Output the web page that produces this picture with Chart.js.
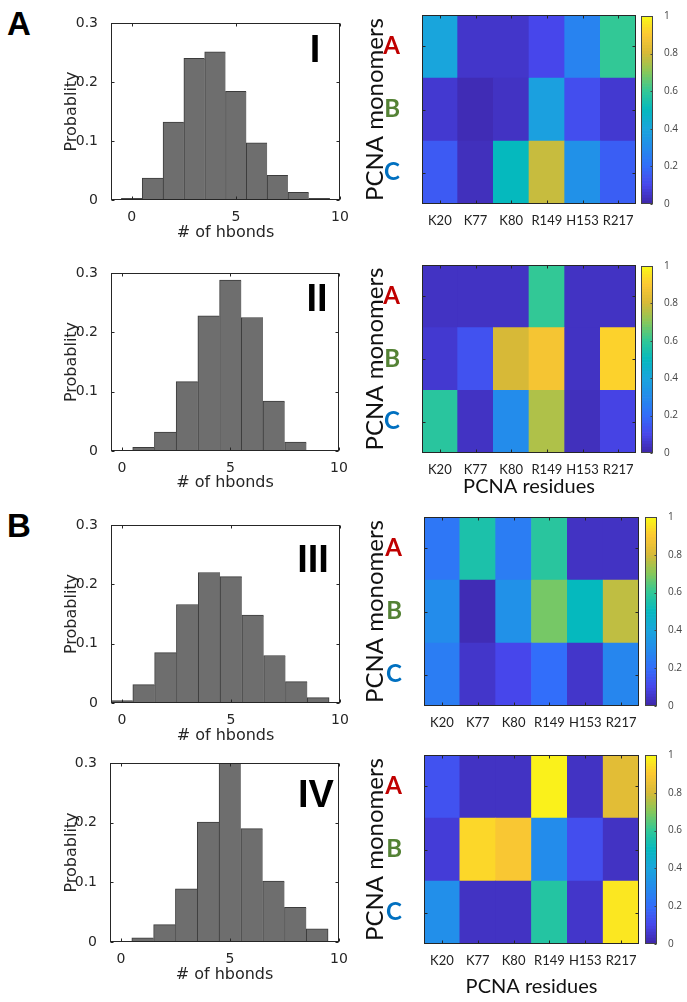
<!DOCTYPE html>
<html>
<head>
<meta charset="utf-8">
<title>PCNA hbonds</title>
<script src="https://cdn.jsdelivr.net/npm/chart.js@4.4.1/dist/chart.umd.min.js"></script>
<style>
html, body { margin: 0; padding: 0; background: #fff; }
body { position: relative; width: 687px; height: 1002px; overflow: hidden; }
canvas { position: absolute; }
.panel { position: absolute; font: bold 33px "Liberation Sans", Arial, sans-serif; line-height: 33px; color: #000; }
</style>
</head>
<body>
<div class="panel" style="left:7px;top:7px">A</div>
<div class="panel" style="left:7px;top:509px">B</div>
<script>
// ---------------- DATA ----------------
const hbondBins = [0, 1, 2, 3, 4, 5, 6, 7, 8, 9];
const probI   = [0.003, 0.037, 0.132, 0.240, 0.251, 0.184, 0.097, 0.042, 0.013, 0.003];
const probII  = [0, 0.006, 0.032, 0.117, 0.228, 0.288, 0.225, 0.084, 0.015, 0];
const probIII = [0.004, 0.031, 0.085, 0.166, 0.220, 0.213, 0.148, 0.080, 0.036, 0.009];
const probIV  = [0, 0.007, 0.029, 0.089, 0.201, 0.300, 0.190, 0.102, 0.058, 0.022];
const hbondTicks = [0, 5, 10];
const probTicks = [0, 0.1, 0.2, 0.3];

const residues = ["K20", "K77", "K80", "R149", "H153", "R217"];
const monomers = ["A", "B", "C"];
const monomerColors = ["#c00000", "#548235", "#0070c0"];

// rows: A, B, C
const heatI = [
    [0.40, 0.05, 0.05, 0.10, 0.27, 0.60],
    [0.06, 0.02, 0.04, 0.38, 0.12, 0.06],
    [0.15, 0.03, 0.50, 0.78, 0.32, 0.16]
];
const heatII = [
    [0.04, 0.04, 0.04, 0.60, 0.04, 0.04],
    [0.06, 0.13, 0.80, 0.88, 0.04, 0.92],
    [0.58, 0.04, 0.30, 0.75, 0.03, 0.09]
];
const heatIII = [
    [0.23, 0.55, 0.25, 0.58, 0.04, 0.04],
    [0.30, 0.02, 0.32, 0.68, 0.50, 0.77],
    [0.25, 0.05, 0.10, 0.20, 0.05, 0.28]
];
const heatIV = [
    [0.13, 0.04, 0.04, 0.98, 0.04, 0.83],
    [0.07, 0.93, 0.89, 0.30, 0.12, 0.04],
    [0.31, 0.04, 0.04, 0.57, 0.05, 0.96]
];
const colorbarTicks = [0, 0.2, 0.4, 0.6, 0.8, 1];

// parula colormap, evenly spaced stops from 0 to 1
const parulaStops = [
    [62, 38, 168], [71, 70, 235], [50, 110, 250], [35, 140, 235],
    [25, 165, 220], [5, 185, 190], [50, 200, 150], [135, 200, 90],
    [215, 185, 55], [253, 200, 50], [249, 251, 21]
];

const axisInk = "#262626";

function parula(v) {
    const n = parulaStops.length - 1;
    const p = Math.min(Math.max(v, 0), 1) * n;
    const i = Math.min(Math.floor(p), n - 1);
    const f = p - i;
    const a = parulaStops[i], b = parulaStops[i + 1];
    return "rgb(" + a.map((c, k) => Math.round(c + (b[k] - c) * f)).join(",") + ")";
}

function makeCanvas(box) {
    const c = document.createElement("canvas");
    c.width = box.w;
    c.height = box.h;
    c.style.left = box.x + "px";
    c.style.top = box.y + "px";
    c.style.width = box.w + "px";
    c.style.height = box.h + "px";
    document.body.appendChild(c);
    return c;
}

// ---------------- BOX + INWARD TICKS ----------------
const framePlugin = {
    id: "frame",
    afterDraw(chart, args, opts) {
        const { ctx, chartArea: a } = chart;
        const L = Math.round(a.left) + 0.5, R = Math.round(a.right) - 0.5;
        const T = Math.round(a.top) + 0.5, B = Math.round(a.bottom) - 0.5;
        const len = opts.tick || 3;
        ctx.save();
        ctx.strokeStyle = opts.color || axisInk;
        ctx.lineWidth = 1;
        ctx.strokeRect(L, T, R - L, B - T);
        ctx.beginPath();
        const sx = chart.scales.x;
        if (sx && sx.options.display !== false) {
            sx.ticks.forEach((t, i) => {
                const px = Math.round(sx.getPixelForTick(i)) + 0.5;
                ctx.moveTo(px, B); ctx.lineTo(px, B - len);
                ctx.moveTo(px, T); ctx.lineTo(px, T + len);
            });
        }
        const sy = chart.scales.y;
        if (sy) {
            sy.ticks.forEach((t, i) => {
                const py = Math.round(sy.getPixelForTick(i)) + 0.5;
                if (opts.left !== false) { ctx.moveTo(L, py); ctx.lineTo(L + len, py); }
                ctx.moveTo(R, py); ctx.lineTo(R - len, py);
            });
        }
        ctx.stroke();
        if (opts.label) {
            ctx.fillStyle = "#000";
            ctx.font = 'bold 38px "Liberation Sans", Arial, sans-serif';
            ctx.textAlign = "center";
            ctx.textBaseline = "alphabetic";
            ctx.fillText(opts.label, a.right - opts.labelRight, a.top + opts.labelBase);
        }
        ctx.restore();
    }
};

// ---------------- HISTOGRAMS ----------------
function drawHistogram(box, area, xMin, probs, numeral, xTitleY) {
    const canvas = makeCanvas(box);
    const last = probs.length - 1;
    const tickFont = { family: "DejaVu Sans", size: 14 };
    const titleFont = { family: "DejaVu Sans", size: 16 };
    new Chart(canvas, {
        type: "bar",
        data: {
            datasets: [{
                data: hbondBins.map((b, i) => ({ x: b, y: probs[i] })),
                backgroundColor: "#6e6e6e",
                borderColor: "#3c3c3c",
                borderWidth: ctx => ({ top: 1, left: 1, bottom: 0, right: ctx.dataIndex === last ? 1 : 0 }),
                borderSkipped: false,
                barPercentage: 1,
                categoryPercentage: 1
            }]
        },
        options: {
            responsive: false,
            animation: false,
            devicePixelRatio: 1,
            layout: { padding: { top: area.t - box.y, right: box.x + box.w - area.r, left: 0, bottom: 0 } },
            plugins: {
                legend: { display: false },
                tooltip: { enabled: false },
                frame: numeral
            },
            scales: {
                x: {
                    type: "linear",
                    min: xMin,
                    max: 10,
                    offset: false,
                    grid: { display: false },
                    border: { display: false },
                    afterBuildTicks: s => { s.ticks = hbondTicks.map(v => ({ value: v })); },
                    ticks: { color: axisInk, font: tickFont, padding: 1, maxRotation: 0, autoSkip: false },
                    title: {
                        display: true,
                        text: "# of hbonds",
                        color: axisInk,
                        font: titleFont,
                        padding: { top: 0, bottom: box.y + box.h - xTitleY - 9.6 }
                    },
                    afterFit: s => {
                        s.height = box.y + box.h - area.b;
                        s.paddingLeft = 0;
                        s.paddingRight = 0;
                    }
                },
                y: {
                    min: 0,
                    max: 0.3,
                    grid: { display: false },
                    border: { display: false },
                    afterBuildTicks: s => { s.ticks = probTicks.map(v => ({ value: v })); },
                    ticks: {
                        color: axisInk,
                        font: tickFont,
                        padding: 5,
                        callback: v => (v === 0 ? "0" : v.toFixed(1))
                    },
                    title: {
                        display: true,
                        text: "Probablity",
                        color: axisInk,
                        font: titleFont,
                        padding: { top: 72 - box.x - 9.6, bottom: 0 }
                    },
                    afterFit: s => {
                        s.width = area.l - box.x;
                        s.paddingTop = 0;
                        s.paddingBottom = 0;
                    }
                }
            }
        },
        plugins: [framePlugin]
    });
}

// ---------------- HEATMAPS ----------------
function drawHeatmap(box, area, values, xTitleY) {
    const canvas = makeCanvas(box);
    const rowsBottomUp = [2, 1, 0];
    new Chart(canvas, {
        type: "bar",
        data: {
            labels: residues,
            datasets: rowsBottomUp.map(r => ({
                label: monomers[r],
                data: residues.map(() => 1),
                backgroundColor: values[r].map(parula),
                borderWidth: 0,
                barPercentage: 1,
                categoryPercentage: 1,
                stack: "cells"
            }))
        },
        options: {
            responsive: false,
            animation: false,
            devicePixelRatio: 1,
            layout: { padding: { top: area.t - box.y, right: box.x + box.w - area.r, left: 0, bottom: 0 } },
            plugins: {
                legend: { display: false },
                tooltip: { enabled: false },
                frame: {}
            },
            scales: {
                x: {
                    stacked: true,
                    grid: { display: false },
                    border: { display: false },
                    ticks: { color: "#222", font: { family: "Lato", size: 13 }, padding: 1, maxRotation: 0, autoSkip: false },
                    title: {
                        display: !!xTitleY,
                        text: "PCNA residues",
                        color: "#111",
                        font: { family: "Lato", size: 20 },
                        padding: { top: 0, bottom: xTitleY ? box.y + box.h - xTitleY - 12 : 0 }
                    },
                    afterFit: s => {
                        s.height = box.y + box.h - area.b;
                        s.paddingLeft = 0;
                        s.paddingRight = 0;
                    }
                },
                y: {
                    stacked: true,
                    min: 0,
                    max: 3,
                    grid: { display: false },
                    border: { display: false },
                    afterBuildTicks: s => { s.ticks = [0.5, 1.5, 2.5].map(v => ({ value: v })); },
                    ticks: {
                        callback: (v, i) => monomers[rowsBottomUp[i]],
                        color: ctx => monomerColors[rowsBottomUp[ctx.index]],
                        font: { family: "Lato", size: 24, weight: "bold" },
                        padding: 14
                    },
                    title: {
                        display: true,
                        text: "PCNA monomers",
                        color: "#111",
                        font: { family: "Lato", size: 24 },
                        padding: { top: 375 - box.x - 14.4, bottom: 0 }
                    },
                    afterFit: s => {
                        s.width = area.l - box.x;
                        s.paddingTop = 0;
                        s.paddingBottom = 0;
                    }
                }
            }
        },
        plugins: [framePlugin]
    });
}

// ---------------- COLORBARS ----------------
function drawColorbar(box, area) {
    const canvas = makeCanvas(box);
    const steps = 64;
    new Chart(canvas, {
        type: "bar",
        data: {
            labels: [""],
            datasets: Array.from({ length: steps }, (_, i) => ({
                data: [1 / steps],
                backgroundColor: parula((i + 0.5) / steps),
                borderWidth: 0,
                barPercentage: 1,
                categoryPercentage: 1,
                stack: "cb"
            }))
        },
        options: {
            responsive: false,
            animation: false,
            devicePixelRatio: 1,
            layout: { padding: { top: area.t - box.y, bottom: box.y + box.h - area.b, left: area.l - box.x, right: 0 } },
            plugins: {
                legend: { display: false },
                tooltip: { enabled: false },
                frame: { color: "#444", left: false, tick: 2 }
            },
            scales: {
                x: { display: false, stacked: true },
                y: {
                    position: "right",
                    stacked: true,
                    min: 0,
                    max: 1,
                    grid: { display: false },
                    border: { display: false },
                    afterBuildTicks: s => { s.ticks = colorbarTicks.map(v => ({ value: v })); },
                    ticks: { color: "#444", font: { family: "Open Sans", size: 10 }, padding: 3, callback: v => String(v) },
                    afterFit: s => {
                        s.width = box.x + box.w - area.r;
                        s.paddingTop = 0;
                        s.paddingBottom = 0;
                    }
                }
            }
        },
        plugins: [framePlugin]
    });
}

drawHistogram({ x: 40, y: 5, w: 310, h: 240 }, { l: 111, t: 23, r: 340, b: 200 }, -1, probI,
    { label: "I", labelRight: 25, labelBase: 39 }, 233);
drawHistogram({ x: 40, y: 255, w: 310, h: 245 }, { l: 111, t: 273, r: 339, b: 451 }, -0.5, probII,
    { label: "II", labelRight: 22, labelBase: 38 }, 483);
drawHistogram({ x: 40, y: 505, w: 310, h: 245 }, { l: 111, t: 525, r: 340, b: 703 }, -0.5, probIII,
    { label: "III", labelRight: 27, labelBase: 47 }, 736);
drawHistogram({ x: 40, y: 745, w: 310, h: 250 }, { l: 110, t: 763, r: 339, b: 942 }, -0.5, probIV,
    { label: "IV", labelRight: 23, labelBase: 44 }, 975);

drawHeatmap({ x: 355, y: 0, w: 285, h: 235 }, { l: 422, t: 15, r: 636, b: 204 }, heatI, 0);
drawHeatmap({ x: 355, y: 250, w: 285, h: 255 }, { l: 422, t: 265, r: 636, b: 453 }, heatII, 487);
drawHeatmap({ x: 355, y: 505, w: 288, h: 230 }, { l: 424, t: 517, r: 639, b: 706 }, heatIII, 0);
drawHeatmap({ x: 355, y: 745, w: 288, h: 257 }, { l: 424, t: 755, r: 639, b: 944 }, heatIV, 987);

drawColorbar({ x: 641, y: 6, w: 40, h: 208 }, { l: 641, t: 16, r: 653, b: 204 });
drawColorbar({ x: 641, y: 256, w: 40, h: 207 }, { l: 641, t: 266, r: 653, b: 453 });
drawColorbar({ x: 645, y: 507, w: 40, h: 209 }, { l: 645, t: 517, r: 657, b: 706 });
drawColorbar({ x: 645, y: 745, w: 40, h: 209 }, { l: 645, t: 755, r: 657, b: 944 });
</script>
</body>
</html>
